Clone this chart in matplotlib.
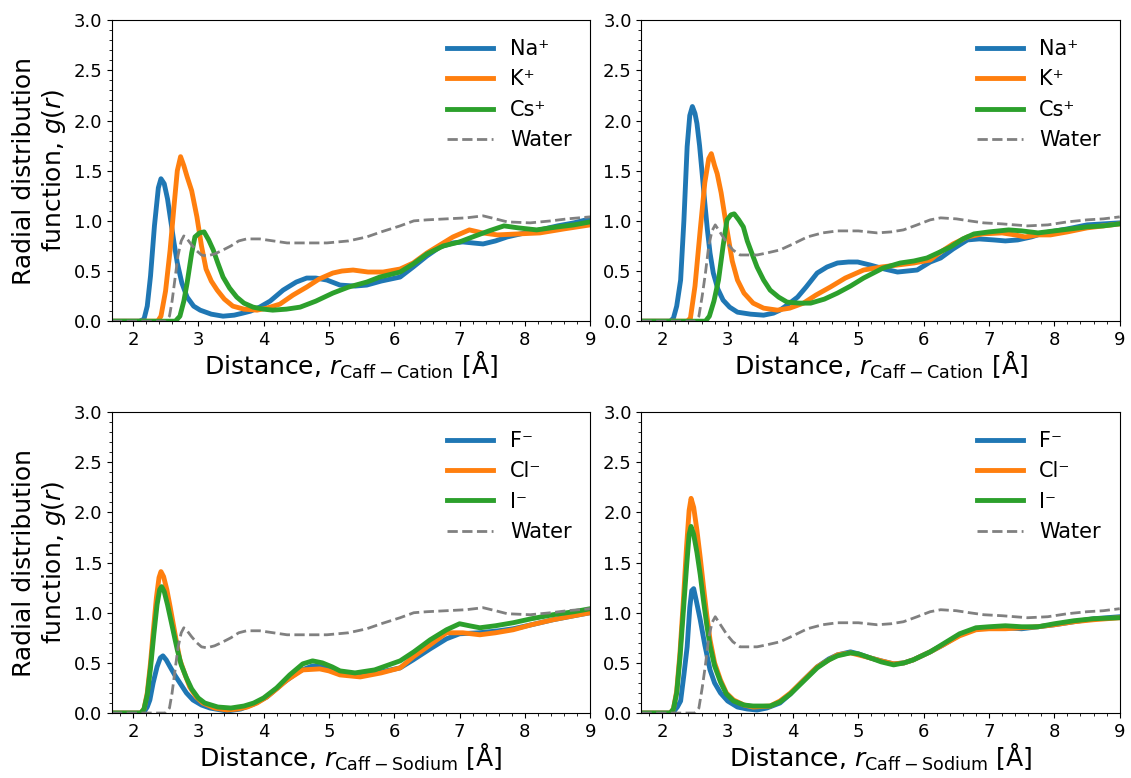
import matplotlib
matplotlib.use('Agg')
import matplotlib.pyplot as plt
from matplotlib.ticker import MultipleLocator

# --- RDF data, caffeine reference site (top-left: cations, top-right: cations, other model) ---
# each curve stored as r [Angstrom] and g(r)
r_min = 1.68

# left column water (caff - water)
wat_l_r = [r_min, 2.5, 2.56, 2.6, 2.64, 2.69, 2.74, 2.78, 2.83, 2.9, 2.98, 3.05, 3.13, 3.25, 3.35, 3.5, 3.62,
           3.74, 3.94, 4.15, 4.36, 4.6, 4.97, 5.3, 5.58, 5.8, 6.09, 6.3, 6.5, 6.8, 7.1, 7.36, 7.55, 7.73,
           8.08, 8.4, 8.65, 9.0]
wat_l_g = [0, 0, 0.05, 0.2, 0.4, 0.65, 0.8, 0.85, 0.82, 0.76, 0.70, 0.66, 0.65, 0.67, 0.70, 0.75, 0.80,
           0.82, 0.82, 0.80, 0.78, 0.78, 0.78, 0.80, 0.84, 0.89, 0.95, 1.0, 1.01, 1.02, 1.03, 1.05, 1.02, 0.99,
           0.98, 1.0, 1.02, 1.04]

# right column water
wat_r_r = [r_min, 2.5, 2.56, 2.61, 2.66, 2.71, 2.76, 2.81, 2.87, 2.93, 2.99, 3.08, 3.19, 3.45, 3.6, 3.8, 4.0,
           4.22, 4.45, 4.68, 5.0, 5.29, 5.5, 5.69, 5.9, 6.1, 6.26, 6.5, 6.7, 6.92, 7.2, 7.59, 7.9, 8.2, 8.5,
           8.75, 9.0]
wat_r_g = [0, 0, 0.05, 0.25, 0.48, 0.75, 0.9, 0.96, 0.9, 0.84, 0.78, 0.71, 0.66, 0.66, 0.68, 0.71, 0.77,
           0.84, 0.88, 0.9, 0.9, 0.88, 0.89, 0.91, 0.96, 1.01, 1.03, 1.02, 1.0, 0.98, 0.97, 0.95, 0.96, 0.99, 1.01,
           1.02, 1.04]

# top left: cations
na1_r = [r_min, 2.1, 2.17, 2.22, 2.27, 2.33, 2.39, 2.43, 2.48, 2.53, 2.58, 2.63, 2.68, 2.75, 2.83, 2.93, 3.03,
         3.2, 3.38, 3.55, 3.68, 3.8, 3.94, 4.1, 4.3, 4.5, 4.66, 4.8, 4.97, 5.17, 5.4, 5.58, 5.8, 6.09, 6.29,
         6.5, 6.7, 6.9, 7.05, 7.2, 7.36, 7.55, 7.73, 8.0, 8.23, 8.5, 8.75, 9.0]
na1_g = [0, 0, 0.02, 0.15, 0.45, 0.95, 1.33, 1.42, 1.37, 1.22, 1.0, 0.78, 0.58, 0.38, 0.24, 0.15, 0.11,
         0.07, 0.05, 0.06, 0.08, 0.1, 0.14, 0.2, 0.31, 0.39, 0.43, 0.43, 0.41, 0.36, 0.35, 0.36, 0.40, 0.44, 0.54,
         0.65, 0.74, 0.78, 0.79, 0.78, 0.77, 0.80, 0.84, 0.88, 0.91, 0.95, 0.98, 1.02]

k1_r = [r_min, 2.38, 2.43, 2.5, 2.57, 2.63, 2.68, 2.73, 2.78, 2.83, 2.9, 2.98, 3.05, 3.12, 3.2, 3.29, 3.4,
        3.53, 3.7, 3.9, 4.05, 4.25, 4.45, 4.66, 4.85, 5.06, 5.2, 5.37, 5.6, 5.83, 6.09, 6.29, 6.5, 6.7, 6.9,
        7.15, 7.35, 7.58, 7.9, 8.23, 8.6, 9.0]
k1_g = [0, 0, 0.05, 0.3, 0.71, 1.15, 1.5, 1.64, 1.55, 1.44, 1.3, 1.04, 0.75, 0.52, 0.4, 0.31, 0.22,
        0.15, 0.12, 0.11, 0.13, 0.17, 0.26, 0.34, 0.42, 0.48, 0.5, 0.51, 0.49, 0.49, 0.52, 0.58, 0.68, 0.76, 0.84,
        0.91, 0.88, 0.86, 0.87, 0.88, 0.92, 0.96]

cs1_r = [r_min, 2.65, 2.72, 2.78, 2.83, 2.9, 2.95, 3.02, 3.09, 3.16, 3.23, 3.3, 3.38, 3.48, 3.59, 3.7, 3.84,
         4.0, 4.14, 4.35, 4.56, 4.8, 5.06, 5.3, 5.58, 5.78, 6.09, 6.29, 6.5, 6.75, 7.0, 7.2, 7.45, 7.68, 7.9,
         8.18, 8.5, 8.75, 9.0]
cs1_g = [0, 0, 0.05, 0.2, 0.38, 0.68, 0.84, 0.88, 0.89, 0.81, 0.71, 0.58, 0.44, 0.33, 0.24, 0.18, 0.14,
         0.12, 0.11, 0.12, 0.14, 0.2, 0.28, 0.34, 0.39, 0.44, 0.49, 0.57, 0.67, 0.75, 0.79, 0.84, 0.90, 0.95, 0.93,
         0.91, 0.94, 0.96, 0.99]

# top right: cations
na2_r = [r_min, 2.12, 2.17, 2.22, 2.28, 2.33, 2.38, 2.42, 2.46, 2.5, 2.53, 2.57, 2.61, 2.65, 2.69, 2.73, 2.78,
         2.85, 2.93, 3.03, 3.15, 3.35, 3.55, 3.7, 3.8, 3.93, 4.07, 4.2, 4.37, 4.52, 4.68, 4.85, 4.99, 5.18,
         5.4, 5.6, 5.9, 6.1, 6.26, 6.45, 6.67, 6.85, 7.07, 7.25, 7.44, 7.65, 7.84, 8.2, 8.5, 8.75, 9.0]
na2_g = [0, 0, 0.03, 0.15, 0.41, 1.0, 1.74, 2.05, 2.14, 2.07, 1.97, 1.75, 1.47, 1.18, 0.91, 0.68, 0.48,
         0.32, 0.21, 0.14, 0.09, 0.07, 0.06, 0.08, 0.11, 0.17, 0.24, 0.34, 0.48, 0.54, 0.58, 0.59, 0.59, 0.56,
         0.52, 0.49, 0.51, 0.59, 0.63, 0.72, 0.81, 0.82, 0.81, 0.80, 0.81, 0.84, 0.88, 0.92, 0.96, 0.97, 0.98]

k2_r = [r_min, 2.38, 2.43, 2.5, 2.58, 2.65, 2.71, 2.75, 2.8, 2.84, 2.9, 2.99, 3.07, 3.15, 3.25, 3.39, 3.55,
        3.76, 3.95, 4.16, 4.35, 4.57, 4.8, 5.08, 5.35, 5.6, 5.85, 6.1, 6.26, 6.45, 6.67, 6.9, 7.2, 7.4, 7.55,
        7.75, 7.94, 8.2, 8.5, 8.75, 9.0]
k2_g = [0, 0, 0.03, 0.35, 0.91, 1.38, 1.62, 1.67, 1.55, 1.47, 1.28, 0.91, 0.6, 0.41, 0.28, 0.18, 0.13,
        0.11, 0.13, 0.18, 0.26, 0.34, 0.43, 0.51, 0.54, 0.56, 0.58, 0.61, 0.69, 0.77, 0.84, 0.87, 0.88, 0.86, 0.84,
        0.86, 0.86, 0.89, 0.93, 0.95, 0.97]

cs2_r = [r_min, 2.66, 2.72, 2.79, 2.86, 2.93, 2.99, 3.05, 3.1, 3.17, 3.24, 3.3, 3.38, 3.45, 3.55, 3.65, 3.78,
         3.91, 4.1, 4.27, 4.48, 4.68, 4.88, 5.08, 5.38, 5.64, 5.85, 6.05, 6.25, 6.41, 6.6, 6.77, 7.0, 7.3, 7.5,
         7.75, 8.0, 8.25, 8.5, 8.75, 9.0]
cs2_g = [0, 0, 0.05, 0.2, 0.41, 0.75, 1.01, 1.06, 1.07, 1.01, 0.94, 0.8, 0.66, 0.54, 0.41, 0.31, 0.24,
         0.19, 0.18, 0.18, 0.22, 0.28, 0.35, 0.43, 0.53, 0.58, 0.6, 0.63, 0.69, 0.74, 0.82, 0.87, 0.89, 0.91, 0.9,
         0.88, 0.9, 0.92, 0.94, 0.95, 0.97]

# bottom left: anions
f1_r = [r_min, 2.12, 2.18, 2.22, 2.26, 2.31, 2.37, 2.42, 2.46, 2.51, 2.57, 2.64, 2.72, 2.82, 2.92, 3.05, 3.18,
        3.44, 3.65, 3.85, 4.05, 4.3, 4.55, 4.75, 4.9, 5.1, 5.3, 5.5, 5.8, 6.09, 6.29, 6.55, 6.8, 7.0, 7.3, 7.6,
        7.82, 8.1, 8.43, 8.75, 9.0]
f1_g = [0, 0, 0.02, 0.06, 0.13, 0.3, 0.46, 0.55, 0.57, 0.53, 0.46, 0.38, 0.3, 0.2, 0.13, 0.08, 0.05,
        0.02, 0.04, 0.09, 0.16, 0.3, 0.42, 0.47, 0.46, 0.41, 0.38, 0.38, 0.41, 0.45, 0.53, 0.64, 0.74, 0.79, 0.8,
        0.82, 0.84, 0.88, 0.93, 0.97, 1.0]

cl1_r = [r_min, 2.12, 2.17, 2.22, 2.27, 2.31, 2.36, 2.4, 2.43, 2.47, 2.52, 2.57, 2.62, 2.67, 2.72, 2.8, 2.87,
         2.97, 3.07, 3.25, 3.44, 3.6, 3.75, 3.9, 4.05, 4.2, 4.36, 4.6, 4.86, 5.0, 5.17, 5.48, 5.8, 6.09, 6.29,
         6.55, 6.8, 7.05, 7.31, 7.55, 7.82, 8.1, 8.43, 8.75, 9.0]
cl1_g = [0, 0, 0.04, 0.2, 0.5, 0.8, 1.15, 1.35, 1.41, 1.36, 1.23, 1.06, 0.88, 0.7, 0.53, 0.38, 0.26,
         0.16, 0.1, 0.05, 0.03, 0.04, 0.06, 0.1, 0.16, 0.24, 0.33, 0.43, 0.44, 0.42, 0.38, 0.36, 0.4, 0.45, 0.56,
         0.68, 0.8, 0.8, 0.78, 0.8, 0.83, 0.88, 0.93, 0.97, 1.0]

i1_r = [r_min, 2.12, 2.17, 2.22, 2.27, 2.32, 2.37, 2.41, 2.44, 2.48, 2.53, 2.58, 2.63, 2.68, 2.74, 2.82, 2.9,
        3.0, 3.1, 3.3, 3.5, 3.7, 3.85, 4.0, 4.2, 4.4, 4.6, 4.75, 4.9, 5.05, 5.17, 5.4, 5.7, 6.09, 6.3, 6.55,
        6.8, 7.0, 7.15, 7.31, 7.55, 7.82, 8.1, 8.43, 8.75, 9.0]
i1_g = [0, 0, 0.04, 0.18, 0.45, 0.78, 1.08, 1.23, 1.26, 1.21, 1.08, 0.93, 0.78, 0.63, 0.48, 0.35, 0.24,
        0.15, 0.1, 0.06, 0.05, 0.07, 0.1, 0.15, 0.25, 0.38, 0.49, 0.52, 0.5, 0.46, 0.42, 0.4, 0.43, 0.52, 0.61,
        0.73, 0.83, 0.89, 0.87, 0.85, 0.87, 0.9, 0.94, 0.98, 1.01, 1.04]

# bottom right: anions
f2_r = [r_min, 2.12, 2.18, 2.23, 2.28, 2.33, 2.38, 2.42, 2.45, 2.48, 2.52, 2.58, 2.65, 2.73, 2.8, 2.89, 3.0,
        3.15, 3.3, 3.45, 3.6, 3.8, 3.96, 4.15, 4.37, 4.55, 4.68, 4.88, 5.0, 5.18, 5.35, 5.54, 5.7, 5.84, 6.1,
        6.3, 6.55, 6.8, 7.0, 7.25, 7.5, 7.75, 8.0, 8.3, 8.6, 9.0]
f2_g = [0, 0, 0.02, 0.06, 0.12, 0.38, 0.66, 1.05, 1.22, 1.24, 1.12, 0.93, 0.68, 0.43, 0.3, 0.2, 0.12,
        0.06, 0.04, 0.03, 0.05, 0.1, 0.19, 0.32, 0.46, 0.54, 0.58, 0.61, 0.59, 0.55, 0.52, 0.49, 0.5, 0.53, 0.61,
        0.68, 0.78, 0.84, 0.85, 0.85, 0.84, 0.86, 0.88, 0.91, 0.94, 0.96]

cl2_r = [r_min, 2.12, 2.17, 2.22, 2.27, 2.32, 2.37, 2.41, 2.44, 2.48, 2.53, 2.58, 2.63, 2.68, 2.73, 2.8, 2.89,
         2.98, 3.09, 3.25, 3.39, 3.65, 3.8, 3.96, 4.15, 4.37, 4.55, 4.68, 4.88, 5.0, 5.18, 5.35, 5.54, 5.7,
         5.84, 6.1, 6.3, 6.55, 6.8, 7.0, 7.25, 7.5, 7.75, 8.0, 8.3, 8.6, 9.0]
cl2_g = [0, 0, 0.04, 0.22, 0.6, 1.1, 1.65, 2.02, 2.14, 2.05, 1.82, 1.55, 1.26, 0.98, 0.73, 0.5, 0.33,
         0.2, 0.13, 0.08, 0.06, 0.07, 0.12, 0.2, 0.32, 0.46, 0.53, 0.58, 0.6, 0.58, 0.55, 0.52, 0.49, 0.5,
         0.53, 0.61, 0.68, 0.77, 0.83, 0.84, 0.84, 0.85, 0.86, 0.88, 0.91, 0.93, 0.95]

i2_r = cl2_r
i2_g = [0, 0, 0.04, 0.2, 0.55, 1.0, 1.45, 1.78, 1.86, 1.78, 1.6, 1.38, 1.12, 0.88, 0.67, 0.47, 0.31,
        0.19, 0.12, 0.08, 0.07, 0.07, 0.11, 0.19, 0.31, 0.45, 0.53, 0.57, 0.6, 0.59, 0.55, 0.51, 0.48, 0.5,
        0.53, 0.61, 0.69, 0.79, 0.85, 0.86, 0.87, 0.86, 0.86, 0.89, 0.92, 0.94, 0.95]

cation_labels = ['Na⁺', 'K⁺', 'Cs⁺']
anion_labels = ['F⁻', 'Cl⁻', 'I⁻']

panels = [
    [(na1_r, na1_g), (k1_r, k1_g), (cs1_r, cs1_g), (wat_l_r, wat_l_g)],
    [(na2_r, na2_g), (k2_r, k2_g), (cs2_r, cs2_g), (wat_r_r, wat_r_g)],
    [(f1_r, f1_g), (cl1_r, cl1_g), (i1_r, i1_g), (wat_l_r, wat_l_g)],
    [(f2_r, f2_g), (cl2_r, cl2_g), (i2_r, i2_g), (wat_r_r, wat_r_g)],
]
colors = ['tab:blue', 'tab:orange', 'tab:green']

fig, axes = plt.subplots(2, 2, figsize=(11.31, 7.78), dpi=100)
plt.subplots_adjust(left=0.099, right=0.990, top=0.974, bottom=0.0835, wspace=0.107, hspace=0.302)

for i, ax in enumerate(axes.flat):
    curves = panels[i]
    labels = cation_labels if i < 2 else anion_labels
    for j in range(3):
        ax.plot(curves[j][0], curves[j][1], color=colors[j], lw=3.5, label=labels[j])
    ax.plot(curves[3][0], curves[3][1], '--', color='grey', lw=2, label='Water')

    ax.set_xlim(r_min, 9)
    ax.set_ylim(0, 3)
    ax.xaxis.set_major_locator(MultipleLocator(1))
    ax.xaxis.set_minor_locator(MultipleLocator(0.2))
    ax.yaxis.set_major_locator(MultipleLocator(0.5))
    ax.yaxis.set_minor_locator(MultipleLocator(0.1))
    ax.tick_params(labelsize=13)
    ax.legend(loc='upper right', frameon=False, fontsize=15, handlelength=2.2)

    if i < 2:
        ax.set_xlabel(r'Distance, $r_{\mathrm{Caff-Cation}}$ [Å]', fontsize=18, labelpad=1)
    else:
        ax.set_xlabel(r'Distance, $r_{\mathrm{Caff-Sodium}}$ [Å]', fontsize=18, labelpad=1)
    if i % 2 == 0:
        ax.set_ylabel('Radial distribution\nfunction, $g(r)$', fontsize=18)

plt.savefig('out.png', dpi=100)
